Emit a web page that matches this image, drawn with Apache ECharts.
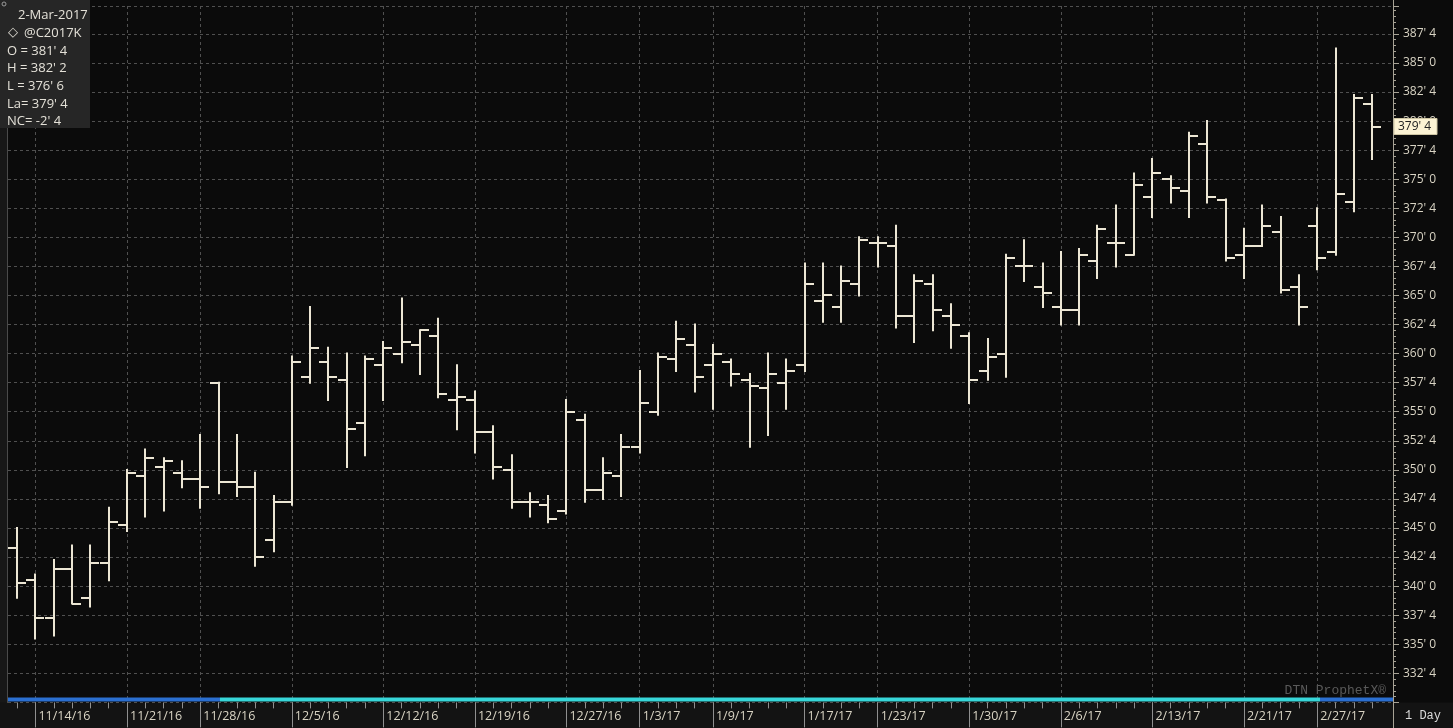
<!DOCTYPE html>
<html><head><meta charset="utf-8">
<script src="https://cdn.jsdelivr.net/npm/echarts@6/dist/echarts.min.js"></script>
<style>html,body{margin:0;padding:0;background:#0b0b0b;}#c{width:1453px;height:728px;}</style>
</head><body><div id="c"></div>
<script>
const dates = ['11/11/16','11/14/16','11/15/16','11/16/16','11/17/16','11/18/16','11/21/16','11/22/16','11/23/16','11/25/16',
 '11/28/16','11/29/16','11/30/16','12/1/16','12/2/16','12/5/16','12/6/16','12/7/16','12/8/16','12/9/16',
 '12/12/16','12/13/16','12/14/16','12/15/16','12/16/16','12/19/16','12/20/16','12/21/16','12/22/16','12/23/16',
 '12/27/16','12/28/16','12/29/16','12/30/16','1/3/17','1/4/17','1/5/17','1/6/17','1/9/17','1/10/17',
 '1/11/17','1/12/17','1/13/17','1/17/17','1/18/17','1/19/17','1/20/17','1/23/17','1/24/17','1/25/17',
 '1/26/17','1/27/17','1/30/17','1/31/17','2/1/17','2/2/17','2/3/17','2/6/17','2/7/17','2/8/17',
 '2/9/17','2/10/17','2/13/17','2/14/17','2/15/17','2/16/17','2/17/17','2/21/17','2/22/17','2/23/17',
 '2/24/17','2/27/17','2/28/17','3/1/17','3/2/17'];
const opens = [343.25,340.5,337.25,341.5,339.0,342.0,345.25,349.5,350.25,349.75,
 349.25,357.5,349.0,348.5,344.0,347.25,358.0,359.25,357.75,354.0,
 359.0,360.0,360.75,361.5,356.0,356.0,353.25,350.0,347.25,347.0,
 346.5,354.25,348.25,349.5,352.0,355.0,359.5,360.75,359.0,359.25,
 357.75,357.0,357.5,359.0,364.5,364.0,366.0,369.5,369.25,363.25,
 366.0,363.25,361.5,358.5,360.0,367.5,365.75,364.0,363.75,368.0,
 369.5,368.5,373.5,375.0,374.0,378.0,373.25,368.5,369.25,370.5,
 365.75,371.0,368.75,373.0,381.5];
const highs = [345.0,341.0,342.25,343.5,343.5,346.75,350.0,351.75,351.0,350.75,
 353.0,357.5,353.0,349.75,347.75,359.75,364.0,360.5,360.0,359.75,
 361.0,364.75,362.0,363.0,359.0,356.75,353.75,351.25,348.0,347.75,
 356.0,354.75,351.0,353.0,358.5,360.0,362.75,362.5,360.75,359.5,
 358.25,360.0,359.5,367.75,367.75,367.5,370.0,370.0,371.0,366.75,
 366.75,364.25,361.75,361.25,368.5,369.75,367.75,368.75,369.0,371.0,
 372.75,375.5,376.75,375.25,379.0,380.0,373.25,370.75,372.75,371.75,
 366.75,372.5,386.25,382.25,382.25];
const lows = [339.0,335.5,335.75,338.5,338.25,340.5,344.75,346.0,346.5,348.5,
 346.75,348.0,347.75,341.75,343.0,347.0,357.5,356.0,350.25,351.25,
 356.0,359.25,358.25,356.25,353.5,351.5,349.25,346.75,346.0,345.5,
 346.25,347.25,347.5,347.75,351.5,354.75,358.5,356.75,355.25,357.25,
 352.0,353.0,355.25,358.5,362.75,362.75,365.0,367.5,362.25,361.0,
 362.0,360.5,355.75,357.75,358.0,366.25,364.0,362.5,362.5,366.5,
 367.5,368.5,371.75,373.0,371.75,373.0,368.0,366.5,369.25,365.25,
 362.5,367.25,368.5,372.25,376.75];
const closes = [340.25,337.25,341.5,338.5,342.0,345.5,349.75,351.0,350.75,349.25,
 348.5,349.0,348.5,342.5,347.25,359.25,360.5,358.0,353.5,359.5,
 360.5,361.0,362.0,356.5,356.25,353.25,350.25,347.25,347.25,345.75,
 355.0,348.25,349.75,352.0,355.75,359.75,361.25,358.0,360.0,358.25,
 357.25,358.25,358.5,366.0,365.0,366.25,369.75,369.5,363.25,366.25,
 363.75,362.5,357.75,359.75,368.25,367.5,365.25,363.75,368.5,370.75,
 369.5,374.5,375.5,374.25,378.75,373.5,368.25,369.25,371.0,365.5,
 364.0,368.25,373.75,382.0,379.5];
const tickLabels = ['11/14/16','11/21/16','11/28/16','12/5/16','12/12/16','12/19/16','12/27/16','1/3/17',
 '1/9/17','1/17/17','1/23/17','1/30/17','2/6/17','2/13/17','2/21/17','2/27/17'];
const symbolName = '@C2017K';
const lastDateText = '2-Mar-2017';
const periodText = '1 Day';
const brandText = 'DTN ProphetX\u00AE';

function fmt(v){
  const s = v < 0 ? '-' : '';
  const a = Math.abs(v);
  const w = Math.floor(a + 1e-9);
  const e = Math.round((a - w) * 8);
  return s + w + "' " + e;
}

const N = dates.length;
const allIdx = dates.map((d,i)=>i);
const labelIdx = tickLabels.map(t => dates.indexOf(t));
const ohlc = dates.map((d,i)=>[i, opens[i], highs[i], lows[i], closes[i]]);
const last = N - 1;

const BAR = '#ece6d4';
const GRIDC = '#505050';
const TXT = '#d9d4c4';
const FONT = "'Open Sans', 'Noto Sans', sans-serif";
const MONO = "'Liberation Mono', 'DejaVu Sans Mono', monospace";

function renderItem(params, api){
  const i = api.value(0);
  const pH = api.coord([i, api.value(2)]);
  const pL = api.coord([i, api.value(3)]);
  const pO = api.coord([i, api.value(1)]);
  const pC = api.coord([i, api.value(4)]);
  const x = Math.round(pH[0]);
  const w = 9;
  const st = {stroke: BAR, lineWidth: 2};
  return {type:'group', children:[
    {type:'line', shape:{x1:x, y1:pH[1]-1, x2:x, y2:pL[1]+1}, style:st},
    {type:'line', shape:{x1:x-w, y1:Math.round(pO[1]), x2:x, y2:Math.round(pO[1])}, style:st},
    {type:'line', shape:{x1:x, y1:Math.round(pC[1]), x2:x+w, y2:Math.round(pC[1])}, style:st}
  ]};
}

const infoLines = [
  'O = ' + fmt(opens[last]),
  'H = ' + fmt(highs[last]),
  'L = ' + fmt(lows[last]),
  'La= ' + fmt(closes[last]),
  'NC= ' + fmt(closes[last] - closes[last-1])
];

const graphic = [
  {id:'lstrip', type:'rect', shape:{x:0,y:0,width:7,height:703}, style:{fill:'#171717'}, z:-5},
  {id:'lline', type:'line', shape:{x1:7.5,y1:0,x2:7.5,y2:703}, style:{stroke:'#4a4a4a',lineWidth:1}, z:-4},
  {id:'bstrip', type:'rect', shape:{x:0,y:702.5,width:1453,height:26}, style:{fill:'#131313'}, z:-5},
  {id:'raxis', type:'line', shape:{x1:1393.5,y1:0,x2:1393.5,y2:728}, style:{stroke:'#a8a396',lineWidth:1}, z:20},
  {id:'b1', type:'rect', shape:{x:8,y:697.5,width:212,height:4}, style:{fill:'#2b6fd0'}, z:20},
  {id:'b2', type:'rect', shape:{x:220,y:697.5,width:1100,height:4}, style:{fill:'#37d6d8'}, z:20},
  {id:'b3', type:'rect', shape:{x:1320,y:697.5,width:73,height:4}, style:{fill:'#2b6fd0'}, z:20},
  {id:'brand', type:'text', x:1386, y:691, style:{text:brandText, fill:'#5a5a5a', font:'13px ' + MONO, textAlign:'right', textVerticalAlign:'middle'}, z:20},
  {id:'period', type:'text', x:1423, y:716, style:{text:periodText, fill:'#dcdcdc', font:'12px ' + MONO, textAlign:'center', textVerticalAlign:'middle'}, z:20},
  {id:'ibox', type:'rect', shape:{x:0,y:0,width:90,height:128}, style:{fill:'#262626'}, z:50},
  {id:'mag', type:'circle', shape:{cx:4,cy:4,r:2}, style:{stroke:'#9a9a9a',fill:'none',lineWidth:1}, z:51},
  {id:'idate', type:'text', x:18, y:15, style:{text:lastDateText, fill:'#e4e1d8', font:'13px ' + FONT, textVerticalAlign:'middle'}, z:51},
  {id:'idia', type:'text', x:8, y:33, style:{text:'\u25C7', fill:'#e4e1d8', font:'13px DejaVu Sans', textVerticalAlign:'middle'}, z:51},
  {id:'isym', type:'text', x:24, y:33, style:{text:symbolName, fill:'#e4e1d8', font:'13px ' + FONT, textVerticalAlign:'middle'}, z:51}
];
infoLines.forEach((t, k) => {
  graphic.push({id:'il'+k, type:'text', x:7, y:51 + k*17.6, style:{text:t, fill:'#e4e1d8', font:'13px ' + FONT, textVerticalAlign:'middle'}, z:51});
});

const chart = echarts.init(document.getElementById('c'), null, {renderer:'canvas'});
chart.setOption({
  backgroundColor:'#0b0b0b',
  animation:false,
  grid:{left:8, right:60, top:6, bottom:25.6, containLabel:false},
  xAxis:[
    {type:'value', min:-0.5, max:75.14, position:'bottom', z:5,
     axisLine:{show:false, onZero:false},
     axisTick:{show:true, customValues:labelIdx, length:25, lineStyle:{color:'#8f8f8f', width:1}},
     axisLabel:{show:true, customValues:labelIdx, formatter:(v)=>dates[Math.round(v)], align:'left', margin:8,
       color:TXT, fontFamily:FONT, fontSize:12.5, padding:[0,0,0,3]},
     splitLine:{show:true, lineStyle:{color:GRIDC, type:[3,3], width:1}}
    },
    {type:'value', min:-0.5, max:75.14, position:'bottom', z:5,
     axisLine:{show:false, onZero:false},
     axisTick:{show:true, customValues:allIdx, length:6, lineStyle:{color:'#8f8f8f', width:1}},
     axisLabel:{show:false}, splitLine:{show:false}
    }
  ],
  yAxis:{type:'value', position:'right', min:330, max:389.9, interval:2.5, z:5,
    axisLine:{show:true, onZero:false, lineStyle:{color:'#a8a396'}},
    axisTick:{show:true, inside:false, length:6, lineStyle:{color:'#a8a396'}},
    minorTick:{show:true, splitNumber:5, length:3, lineStyle:{color:'#a8a396'}},
    axisLabel:{margin:10, color:TXT, fontFamily:FONT, fontSize:12, formatter:(v)=> (v < 331 || v > 388) ? '' : fmt(v)},
    splitLine:{show:true, lineStyle:{color:GRIDC, type:[3,3], width:1}}
  },
  series:[{
    type:'custom', xAxisIndex:0, yAxisIndex:0, renderItem:renderItem, data:ohlc,
    encode:{x:0, y:[1,2,3,4]}, z:10
  }],
  graphic: graphic
});

// last-price marker on the right axis
const py = chart.convertToPixel({yAxisIndex:0}, closes[last]);
chart.setOption({graphic:[
  {id:'pbox', type:'rect', shape:{x:1394, y:Math.round(py)-8.5, width:43, height:16}, style:{fill:'#fcf3d4', stroke:'#cfc6a4', lineWidth:1}, z:60},
  {id:'ptxt', type:'text', x:1398, y:Math.round(py), style:{text:fmt(closes[last]), fill:'#222', font:'12px ' + FONT, textVerticalAlign:'middle'}, z:61}
]});
</script>
</body></html>
